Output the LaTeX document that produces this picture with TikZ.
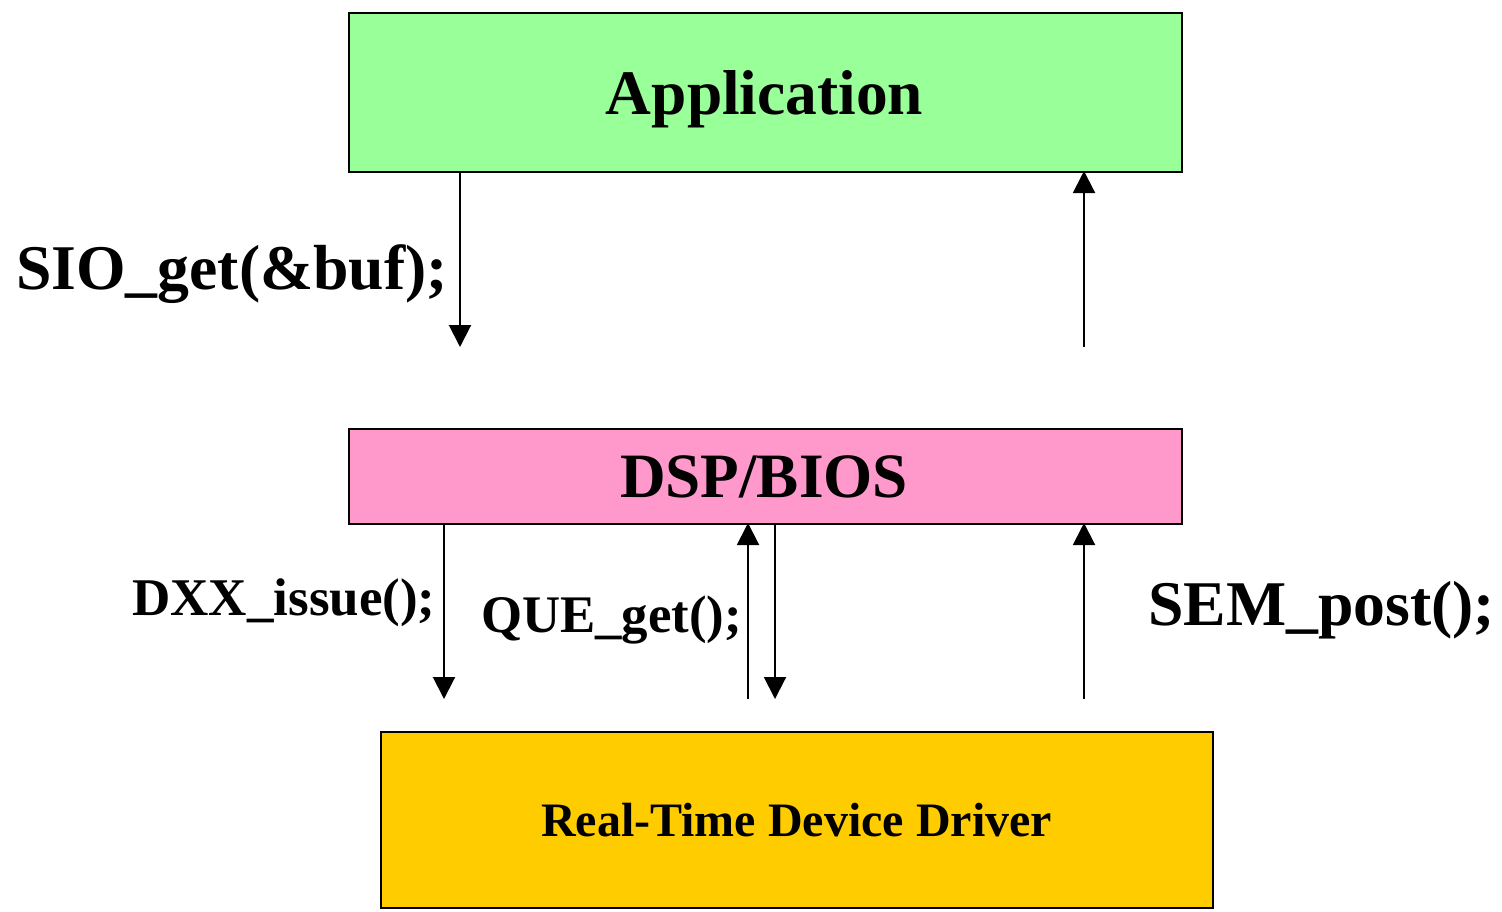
\documentclass[tikz,border=0pt]{standalone}
\usepackage{fontspec}
\setmainfont{Liberation Serif}
\usetikzlibrary{arrows.meta}
\definecolor{appgreen}{HTML}{99FF99}
\definecolor{biospink}{HTML}{FF99CC}
\definecolor{drvyellow}{HTML}{FFCC00}
\begin{document}
\begin{tikzpicture}[x=0.5pt,y=-0.5pt,
  box/.style={draw=black,line width=1pt},
  lbl/.style={anchor=base,inner sep=0pt,font=\bfseries},
  conn/.style={line width=1pt,-{Triangle[length=11pt,width=11pt]}}]
\useasboundingbox (0,0) rectangle (1502,911);
% boxes
\node[box,fill=appgreen,minimum width=416.5pt,minimum height=79.5pt,anchor=north west] (app) at (348,12) {};
\node[box,fill=biospink,minimum width=416.5pt,minimum height=47.5pt,anchor=north west] (bios) at (348,428) {};
\node[box,fill=drvyellow,minimum width=416pt,minimum height=88pt,anchor=north west] (drv) at (380,731) {};
% texts
\node[lbl,font=\bfseries\fontsize{31.7}{36}\selectfont] (tapp) at (764.5,114) {Application};
\node[lbl,font=\bfseries\fontsize{31.6}{36}\selectfont] (tbios) at (764,497) {DSP/BIOS};
\node[lbl,font=\bfseries\fontsize{24}{28}\selectfont] (tdrv) at (796.5,836) {Real-Time Device Driver};
\node[lbl,font=\bfseries\fontsize{31.85}{36}\selectfont] (tsio) at (232,289) {SIO\_get(\&buf);};
\node[lbl,font=\bfseries\fontsize{26.5}{30}\selectfont] (tdxx) at (284,615) {DXX\_issue();};
\node[lbl,font=\bfseries\fontsize{26.4}{30}\selectfont] (tque) at (611.5,632) {QUE\_get();};
\node[lbl,font=\bfseries\fontsize{31.85}{36}\selectfont] (tsem) at (1321.5,625) {SEM\_post();};
% connector end points
\coordinate (a1s) at (460,171);
\coordinate (a1e) at (460,347);
\coordinate (a2s) at (1084,347);
\coordinate (a2e) at (1084,171);
\coordinate (b1s) at (444,523);
\coordinate (b1e) at (444,699);
\coordinate (b2s) at (748,699);
\coordinate (b2e) at (748,523);
\coordinate (b3s) at (775,523);
\coordinate (b3e) at (775,699);
\coordinate (b4s) at (1084,699);
\coordinate (b4e) at (1084,523);
% connectors
\draw[conn] (a1s) -- (a1e);
\draw[conn] (a2s) -- (a2e);
\draw[conn] (b1s) -- (b1e);
\draw[conn] (b2s) -- (b2e);
\draw[conn] (b3s) -- (b3e);
\draw[conn] (b4s) -- (b4e);
\end{tikzpicture}
\end{document}
